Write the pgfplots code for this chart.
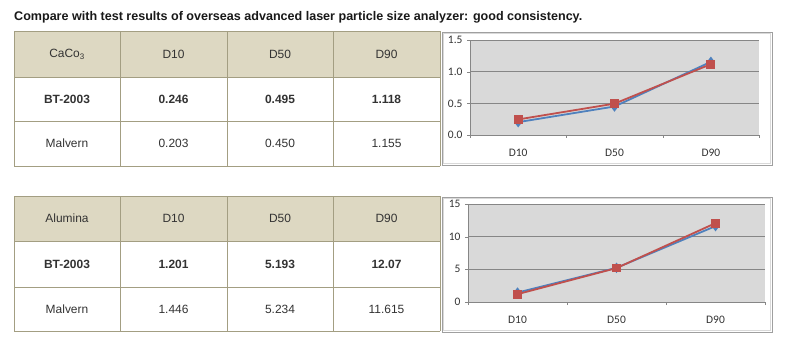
\documentclass[border=0pt]{standalone}
\usepackage{pgfplots}
\pgfplotsset{compat=1.18}
\usepackage{fontspec}
\setmainfont{Liberation Sans}
\newfontfamily\calfont{Carlito}
\definecolor{hdr}{HTML}{DDD8C2}
\definecolor{bord}{HTML}{A39E82}
\definecolor{txt}{HTML}{333333}
\definecolor{plotgray}{HTML}{D9D9D9}
\definecolor{gridc}{HTML}{868686}
\definecolor{sblue}{HTML}{4F81BD}
\definecolor{sred}{HTML}{C0504D}
\pgfplotsset{excel/.style={
  scale only axis, anchor=south west,
  xmin=-0.5, xmax=2.5,
  xtick={0,1,2}, xticklabels={D10,D50,D90},
  major x tick style={draw=none},
  minor xtick={-0.5,0.5,1.5,2.5},
  minor x tick style={draw=gridc},
  minor tick length=3bp, major tick length=3bp,
  tick align=outside,
  axis background/.style={fill=plotgray},
  ymajorgrids, major grid style={draw=gridc, line width=0.6pt},
  axis x line*=bottom, axis y line*=left,
  axis line style={-, draw=gridc, line width=0.6pt},
  y tick style={draw=gridc},
  tick label style={font=\calfont\fontsize{11.5}{13}\selectfont, text=txt},
  /pgf/number format/assume math mode=true,
  xticklabel style={yshift=-8bp},
  yticklabel style={xshift=-1bp},
  clip=false,
  every axis plot/.append style={line width=1.8bp},
}}
\begin{document}
\begin{tikzpicture}[x=1bp,y=1bp]
\path[use as bounding box, fill=white] (0,0) rectangle (800,354);
\node[anchor=west, inner sep=0pt, text=black!90] at (14,337) {\fontsize{12.6}{14}\selectfont\bfseries Compare with test results of overseas advanced laser particle size analyzer: good consistency.};
% ---------- table 1
\fill[hdr] (14,323) rectangle (440,277);
\foreach \y in {323,277,233,188} \draw[bord, line width=0.8bp] (14,\y) -- (440,\y);
\foreach \x in {14,120,227,333,440} \draw[bord, line width=0.8bp] (\x,188) -- (\x,323);
\begin{scope}[every node/.style={text=txt, font=\fontsize{12}{14}\selectfont}]
\node at (67,300) {CaCo\textsubscript{3}};
\node at (173.5,300) {D10};
\node at (280,300) {D50};
\node at (386.5,300) {D90};
\node at (67,255) {\bfseries BT-2003};
\node at (173.5,255) {\bfseries 0.246};
\node at (280,255) {\bfseries 0.495};
\node at (386.5,255) {\bfseries 1.118};
\node at (67,210.5) {Malvern};
\node at (173.5,210.5) {0.203};
\node at (280,210.5) {0.450};
\node at (386.5,210.5) {1.155};
\end{scope}
% ---------- table 2
\fill[hdr] (14,158) rectangle (440,113);
\foreach \y in {158,113,67,23} \draw[bord, line width=0.8bp] (14,\y) -- (440,\y);
\foreach \x in {14,120,227,333,440} \draw[bord, line width=0.8bp] (\x,23) -- (\x,158);
\begin{scope}[every node/.style={text=txt, font=\fontsize{12}{14}\selectfont}]
\node at (67,135.5) {Alumina};
\node at (173.5,135.5) {D10};
\node at (280,135.5) {D50};
\node at (386.5,135.5) {D90};
\node at (67,90) {\bfseries BT-2003};
\node at (173.5,90) {\bfseries 1.201};
\node at (280,90) {\bfseries 5.193};
\node at (386.5,90) {\bfseries 12.07};
\node at (67,45) {Malvern};
\node at (173.5,45) {1.446};
\node at (280,45) {5.234};
\node at (386.5,45) {11.615};
\end{scope}
% ---------- chart frames
\draw[gray!75, line width=0.8bp] (442,322) rectangle (772,189);
\draw[gray!30, line width=0.6bp] (443.5,320.5) rectangle (770.5,190.5);
\draw[gray!75, line width=0.8bp] (442,157) rectangle (772,22);
\draw[gray!30, line width=0.6bp] (443.5,155.5) rectangle (770.5,23.5);
% ---------- chart 1
\begin{axis}[excel, at={(470bp,219bp)}, width=289bp, height=95bp,
  ymin=0, ymax=1.5, ytick={0,0.5,1,1.5},
  yticklabel style={/pgf/number format/.cd, fixed, fixed zerofill, precision=1}]
\addplot[sblue, mark=diamond*, mark size=3.8bp, mark options={solid, fill=sblue}] coordinates {(0,0.203) (1,0.450) (2,1.155)};
\addplot[sred, mark=square*, mark size=3.5bp, mark options={solid, fill=sred}] coordinates {(0,0.246) (1,0.495) (2,1.118)};
\end{axis}
% ---------- chart 2
\begin{axis}[excel, at={(468bp,52bp)}, width=297bp, height=98bp,
  ymin=0, ymax=15, ytick={0,5,10,15}]
\addplot[sblue, mark=diamond*, mark size=3.8bp, mark options={solid, fill=sblue}] coordinates {(0,1.446) (1,5.234) (2,11.615)};
\addplot[sred, mark=square*, mark size=3.5bp, mark options={solid, fill=sred}] coordinates {(0,1.201) (1,5.193) (2,12.07)};
\end{axis}
\end{tikzpicture}
\end{document}
